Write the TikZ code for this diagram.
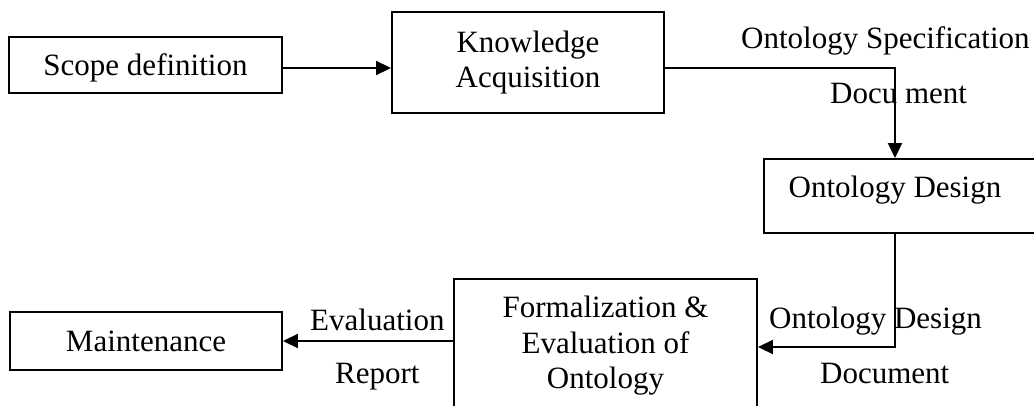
\documentclass[tikz,border=0pt]{standalone}
\usepackage{fontspec}
\setmainfont{Liberation Serif}
\usetikzlibrary{arrows.meta}
\begin{document}
\begin{tikzpicture}[x=1pt,y=-1pt,
  every node/.style={font=\fontsize{31}{35.5}\selectfont, inner sep=0pt},
  stage/.style={draw, line width=1.9pt, rectangle, align=center},
  flow/.style={line width=1.9pt, -{Triangle[length=15pt,width=14pt]}},
  tag/.style={anchor=base west}]
\useasboundingbox (0,0) rectangle (1034,405);
\clip (0,0) rectangle (1034,405);

% process stages
\node[stage, minimum width=273pt, minimum height=56pt, text height=26.7pt, text depth=6.7pt]
  (scope) at (145.5,65) {Scope definition};
\node[stage, minimum width=272pt, minimum height=101pt] (ka) at (528,62.5) {Knowledge\\Acquisition};
\node[stage, minimum width=276pt, minimum height=74pt] (od) at (902,196) {};
\node (odtext) at (895,190) {Ontology Design};
\node[stage, minimum width=303pt, minimum height=150pt] (form) at (605.5,354) {};
\node[align=center] (formtext) at (605.5,346) {Formalization \&\\Evaluation of\\Ontology};
\node[stage, minimum width=272pt, minimum height=58pt] (maint) at (146,341) {Maintenance};

% connectors
\draw[flow] ([yshift=-3pt]scope.east) -- ([yshift=-3pt]scope.east -| ka.west);
\draw[flow] ([yshift=-5.5pt]ka.east) -| (odtext.center |- od.north);
\coordinate (bend) at (895,347);
\draw[flow] (odtext.center |- od.south) -- (bend) -- (bend -| form.east);
\draw[flow] (maint.east -| form.west) -- (maint.east);

% connector labels
\node[tag] (spec1) at (741,48) {Ontology Specification};
\node[tag] (spec2) at (830,103) {Docu ment};
\node[tag] (des1) at (769,328) {Ontology Design};
\node[tag] (des2) at (820,383) {Document};
\node[tag] (eval1) at (310,330) {Evaluation};
\node[tag] (eval2) at (335,383) {Report};
\end{tikzpicture}
\end{document}
